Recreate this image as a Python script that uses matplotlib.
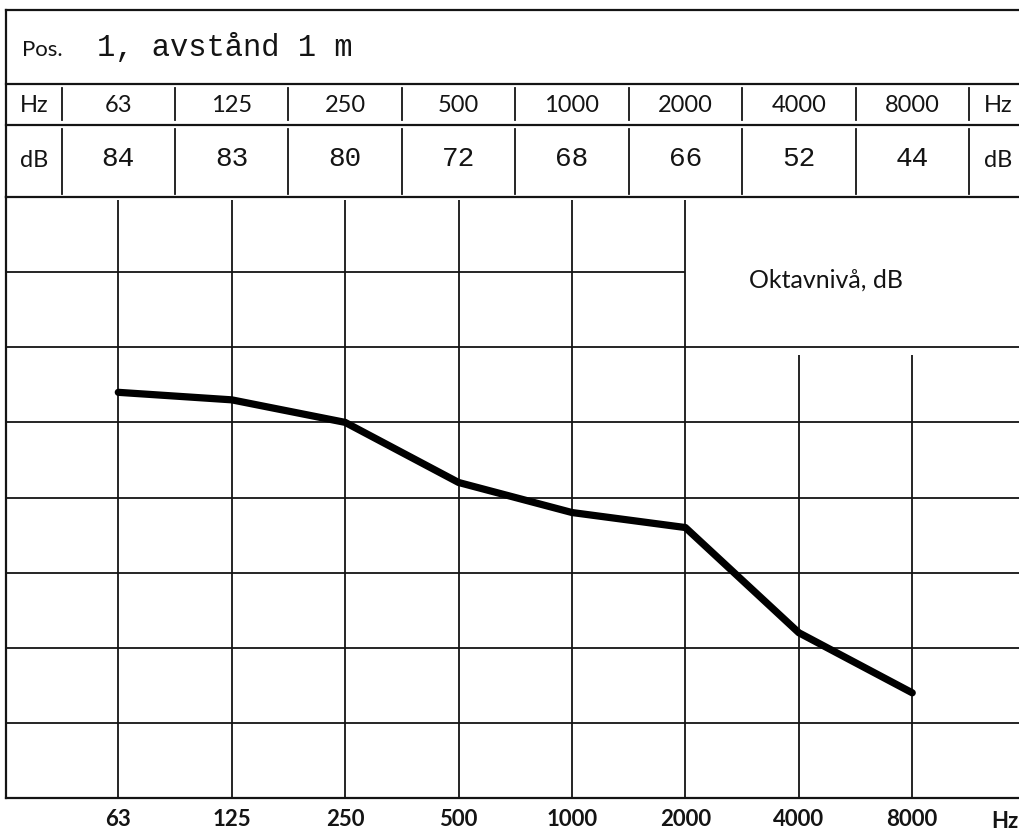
"""Oktavbandsnivåer, pos. 1, avstånd 1 m — omritning av mätblankett."""

import matplotlib

matplotlib.use("Agg")
import matplotlib.pyplot as plt
from matplotlib.transforms import blended_transform_factory

# Data
FREKVENSER = ["63", "125", "250", "500", "1000", "2000", "4000", "8000"]
NIVA_DB = [84, 83, 80, 72, 68, 66, 52, 44]
DB_LINJER = [40, 50, 60, 70, 80, 90, 100]
TITEL_POS = "Pos."
TITEL_TEXT = "1, avstånd 1 m"
ETIKETT = "Oktavnivå, dB"

W, H = 1020, 832
SANS = ["Lato", "DejaVu Sans"]
MONO = ["Liberation Mono", "DejaVu Sans Mono"]
SVART = "#141414"
LW = 1.3


def fy(px):
    """pixelrad (uppifrån) -> figurandel"""
    return 1 - px / H


fig = plt.figure(figsize=(W / 100, H / 100), dpi=100)
fig.patch.set_facecolor("white")

# Diagramytan: 30–110 dB, oktavband som index
ax = fig.add_axes([6 / W, fy(798), 1014 / W, (798 - 197) / H])
xmin, xmax = -0.99, 7.95
ax.set_xlim(xmin, xmax)
ax.set_ylim(30, 110)
ax.set_facecolor("white")

# Rutnät — övre högra rutan lämnas tom för etiketten
n = len(FREKVENSER)
for i in range(n):
    topp = 109.6 if i <= 5 else 89.0
    ax.vlines(i, 30, topp, color=SVART, lw=LW)
for v in DB_LINJER:
    slut = 5 if v == 100 else xmax
    ax.hlines(v, xmin, slut, color=SVART, lw=LW)

ax.plot(range(n), NIVA_DB, color="black", lw=5.2,
        solid_capstyle="round", solid_joinstyle="round", zorder=5)

ax.text(6.24, 99, ETIKETT, ha="center", va="center",
        fontsize=18, family=SANS, color=SVART)

for s in ["left", "top", "bottom"]:
    ax.spines[s].set_linewidth(1.6)
    ax.spines[s].set_color(SVART)
ax.spines["right"].set_visible(False)

ax.set_yticks([])
ax.set_xticks(range(n), FREKVENSER)
ax.tick_params(axis="x", length=0, pad=8)
for lab in ax.get_xticklabels():
    lab.set_fontfamily(SANS)
    lab.set_fontsize(16)
    lab.set_fontweight("bold")
    lab.set_color(SVART)

trans = blended_transform_factory(ax.transData, fig.transFigure)
ax.text(7.94, fy(828), "Hz", transform=trans, ha="right", va="baseline",
        fontsize=16, fontweight="bold", family=SANS, color=SVART)

# Tabellhuvud ovanför diagrammet
kw = dict(transform=trans, clip_on=False, color=SVART)
for yp in [10, 84, 125]:
    ax.plot([xmin, 8.2], [fy(yp)] * 2, lw=1.6, **kw)
ax.plot([xmin, xmin], [fy(10), fy(197)], lw=1.6, **kw)
for k in range(n + 1):
    x = k - 0.5
    ax.plot([x, x], [fy(88), fy(120)], lw=LW, **kw)
    ax.plot([x, x], [fy(129), fy(194)], lw=LW, **kw)

ax.text(-0.846, fy(56), TITEL_POS, transform=trans, ha="left",
        va="baseline", fontsize=16, family=SANS, color=SVART)
ax.text(-0.185, fy(56), TITEL_TEXT, transform=trans, ha="left",
        va="baseline", fontsize=22, family=MONO, color=SVART)

ax.text(-0.74, fy(112), "Hz", transform=trans, ha="center", va="baseline",
        fontsize=17, family=SANS, color=SVART)
ax.text(-0.74, fy(167), "dB", transform=trans, ha="center", va="baseline",
        fontsize=17, family=SANS, color=SVART)
ax.text(7.76, fy(112), "Hz", transform=trans, ha="center", va="baseline",
        fontsize=17, family=SANS, color=SVART)
ax.text(7.76, fy(167), "dB", transform=trans, ha="center", va="baseline",
        fontsize=17, family=SANS, color=SVART)

for i, (f, v) in enumerate(zip(FREKVENSER, NIVA_DB)):
    ax.text(i, fy(112), f, transform=trans, ha="center", va="baseline",
            fontsize=17, family=SANS, color=SVART)
    ax.text(i, fy(166), str(v), transform=trans, ha="center",
            va="baseline", fontsize=20, family=MONO, color=SVART)

fig.savefig("out.png", dpi=100, facecolor="white")
